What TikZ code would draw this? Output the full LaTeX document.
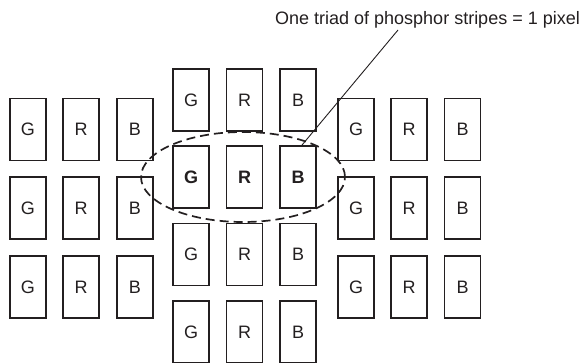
\documentclass[tikz,border=0pt]{standalone}
\usepackage{fontspec}
\setmainfont{Liberation Sans}
\usetikzlibrary{shapes.geometric}
\definecolor{ink}{RGB}{35,31,32}
\tikzset{
  stripe/.style={draw=ink,line width=1.1pt,minimum width=36pt,minimum height=62pt,
    inner sep=0pt,text=ink,font=\fontsize{18}{20}\selectfont},
  triad/.style={stripe,line width=1.9pt,font=\fontsize{18}{20}\selectfont\bfseries},
  pixel/.style={ellipse,draw=ink,line width=1.7pt,dash pattern=on 9pt off 5pt,
    minimum width=204pt,minimum height=90pt,inner sep=0pt},
  tag/.style={font=\fontsize{18}{20}\selectfont,text=ink,inner sep=0pt},
}
\begin{document}
\begin{tikzpicture}[x=1pt,y=-1pt]
  \useasboundingbox (0,0) rectangle (585,363);
  % side groups
  \foreach \col/\x in {G/28,R/81,B/135}
    \foreach \row/\y in {1/129.5,2/208,3/287}
      \node[stripe] (left-\col\row) at (\x,\y) {\col};
  \foreach \col/\x in {G/356,R/409,B/462.5}
    \foreach \row/\y in {1/129.5,2/208,3/287}
      \node[stripe] (right-\col\row) at (\x,\y) {\col};
  % middle group, row 2 is the pixel
  \foreach \col/\x in {G/191,R/244.5,B/298}{
    \foreach \row/\y in {1/100,3/254.5,4/332}
      \node[stripe] (mid-\col\row) at (\x,\y) {\col};
    \node[triad] (mid-\col2) at (\x,177) {\col};
  }
  \node[pixel] (px) at (243,177) {};
  % caption
  \node[tag,anchor=base] (caption) at (427.5,25) {One triad of phosphor stripes = 1 pixel};
  \coordinate (lead) at (398,30);
  \draw[ink,line width=0.9pt] (lead) -- ([xshift=4pt]mid-B2.north);
\end{tikzpicture}
\end{document}
